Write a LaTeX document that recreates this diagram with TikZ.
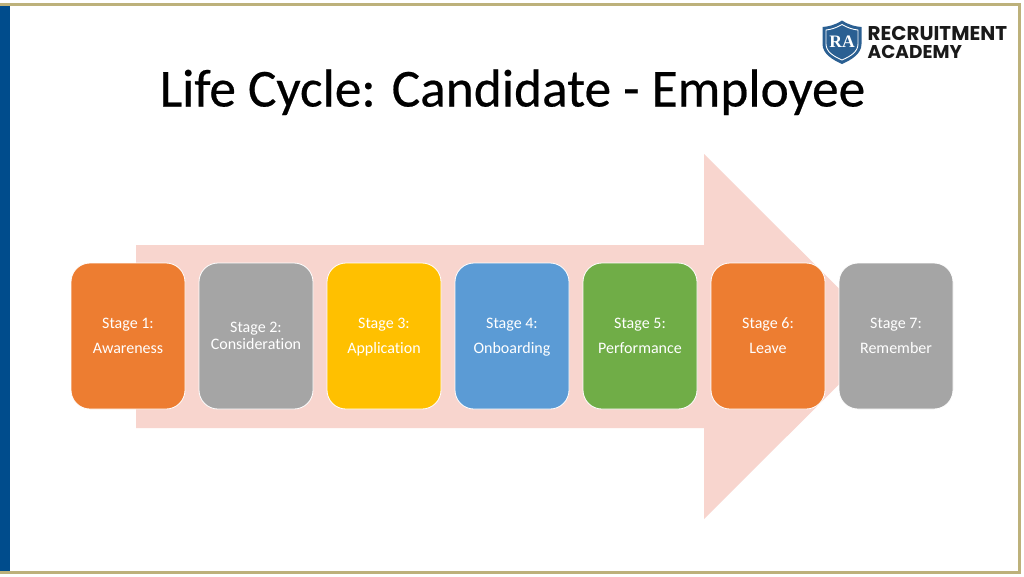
\documentclass[tikz,border=0pt]{standalone}
\usepackage{fontspec}
\setmainfont[Ligatures=NoCommon]{Carlito}
\newfontfamily\titlefont[FakeBold=0.4,Ligatures=NoCommon]{Carlito}
\newfontfamily\logofont{Poppins}
\newfontfamily\shieldfont{Liberation Serif}
\newcommand{\topstrut}{\rule[-5.7pt]{0pt}{21.7pt}}
\newcommand{\botstrut}{\rule[-5.7pt]{0pt}{13.3pt}}
\definecolor{arrowpink}{HTML}{F8D5CE}
\definecolor{stageorange}{HTML}{ED7D31}
\definecolor{stagegray}{HTML}{A5A5A5}
\definecolor{stageyellow}{HTML}{FFC000}
\definecolor{stageblue}{HTML}{5B9BD5}
\definecolor{stagegreen}{HTML}{70AD47}
\definecolor{framegold}{HTML}{BDB17B}
\definecolor{barblue}{HTML}{004C8C}
\definecolor{shieldblue}{HTML}{2A5F92}
\definecolor{inkdark}{HTML}{1A1A1A}
\tikzset{
  stagebox/.style={draw=white,line width=0.8pt,rounded corners=19pt,minimum width=114pt,minimum height=146pt,inner sep=0pt,text=white,font=\fontsize{16}{19}\selectfont,align=center},
  logotext/.style={text=inkdark,anchor=base west,inner sep=0pt}
}
\begin{document}
\begin{tikzpicture}[x=1pt,y=-1pt]
\useasboundingbox (0,0) rectangle (1024,576);
\fill[white] (0,0) rectangle (1024,576);
% frame and side bar
\draw[framegold,line width=2.4pt] (0,4.5) -- (1019.5,4.5) -- (1019.5,572.5) -- (0,572.5);
\fill[barblue] (0,6) rectangle (9.5,571);
% big arrow
\fill[arrowpink] (136,245) -- (704,245) -- (704,154) -- (887,336.5) -- (704,519) -- (704,428) -- (136,428) -- cycle;
% title
\node[inner sep=0pt,anchor=base,font=\titlefont\fontsize{53.4}{60}\selectfont,text=black] (title) at (512.5,106.5) {Life Cycle: Candidate - Employee};
% stages
\node[stagebox,fill=stageorange] (s1) at (128,336) {\topstrut Stage 1:\\[6pt]\botstrut Awareness};
\node[stagebox,fill=stagegray] (s2) at (256,336) {\topstrut Stage 2:\\[-1.5pt]\botstrut Consideration};
\node[stagebox,fill=stageyellow] (s3) at (384,336) {\topstrut Stage 3:\\[6pt]\botstrut Application};
\node[stagebox,fill=stageblue] (s4) at (512,336) {\topstrut Stage 4:\\[6pt]\botstrut Onboarding};
\node[stagebox,fill=stagegreen] (s5) at (640,336) {\topstrut Stage 5:\\[6pt]\botstrut Performance};
\node[stagebox,fill=stageorange] (s6) at (768,336) {\topstrut Stage 6:\\[6pt]\botstrut Leave};
\node[stagebox,fill=stagegray] (s7) at (896,336) {\topstrut Stage 7:\\[6pt]\botstrut Remember};
% logo
\fill[shieldblue] (842,20.5) .. controls (849,25) and (855,26.5) .. (861.5,27) -- (861.5,44) .. controls (861.5,54) and (851,60) .. (842,64) .. controls (833,60) and (822.5,54) .. (822.5,44) -- (822.5,27) .. controls (829,26.5) and (835,25) .. (842,20.5) -- cycle;
\draw[white,line width=0.9pt] (842,24.5) .. controls (848,28) and (853,29.5) .. (858,30) -- (858,44) .. controls (858,52) and (850,56.5) .. (842,60) .. controls (834,56.5) and (826,52) .. (826,44) -- (826,30) .. controls (831,29.5) and (836,28) .. (842,24.5) -- cycle;
\node[inner sep=0pt,font=\shieldfont\bfseries\fontsize{17.5}{18}\selectfont,text=white] (ra) at (842,42) {RA};
\node[logotext,font=\logofont\bfseries\fontsize{19.9}{20}\selectfont] (logo1) at (867.5,40) {RECRUITMENT};
\node[logotext,font=\logofont\bfseries\fontsize{18.5}{20}\selectfont] (logo2) at (867.5,58) {ACADEMY};
\end{tikzpicture}
\end{document}
